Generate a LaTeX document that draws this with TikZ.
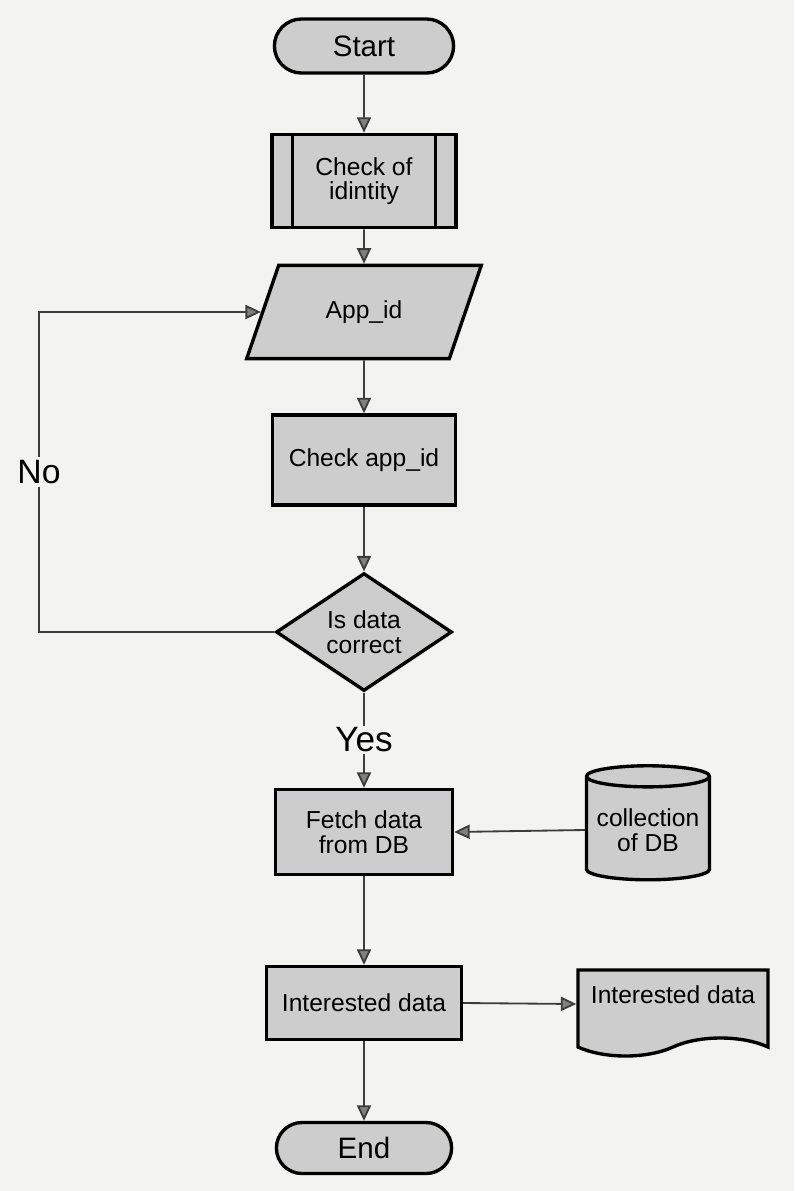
\documentclass[tikz,border=0pt]{standalone}
\usepackage{fontspec}
\setmainfont{Liberation Sans}
\usepackage{tikz}
\usetikzlibrary{arrows.meta,shapes.geometric,shapes.misc,shapes.symbols}
\usepackage{xcolor}
\definecolor{boxgray}{RGB}{205,205,205}
\definecolor{linegray}{RGB}{60,60,60}
\definecolor{paper}{RGB}{243,243,241}
\newcommand{\boxfont}{\fontsize{17.5}{17.5}\selectfont}
\tikzstyle{flowbox} = [draw, line width=2.4pt, fill=boxgray, align=center, inner sep=1pt, font=\boxfont]
\tikzstyle{terminal} = [flowbox, rounded rectangle, minimum height=1.35cm, font=\fontsize{21}{23}\selectfont]
\tikzstyle{process} = [flowbox, rectangle]
\tikzstyle{inout} = [flowbox, trapezium, trapezium left angle=60, trapezium right angle=120, trapezium stretches=true]
\tikzstyle{decision} = [flowbox, diamond, inner sep=0pt]
\tikzstyle{database} = [flowbox, cylinder, shape border rotate=90, aspect=0.2]
\tikzstyle{document} = [flowbox, tape, tape bend top=none, tape bend bottom=in and out, tape bend height=0.45cm]
\tikzstyle{arrow} = [line width=1.3pt, color=linegray, -{Triangle[length=11pt,width=10pt,fill=gray]}]

\begin{document}
\begin{tikzpicture}
\fill[paper] (0,0) rectangle (19.85,-29.775);
\useasboundingbox (0,0) rectangle (19.85,-29.775);

% Main column
\node[terminal, minimum width=4.55cm] (start) at (9.1,-1.15) {Start};
\node[process, minimum width=4.6cm, minimum height=2.33cm] (idn) at (9.1,-4.525) {Check of\\idintity};
\draw[line width=2.4pt] ([xshift=0.55cm]idn.north west) -- ([xshift=0.55cm]idn.south west);
\draw[line width=2.4pt] ([xshift=-0.55cm]idn.north east) -- ([xshift=-0.55cm]idn.south east);
\node[inout, minimum width=5.9cm, minimum height=2.33cm] (app) at (9.1,-7.8) {App\_id};
\node[process, minimum width=4.575cm, minimum height=2.25cm] (chk) at (9.1,-11.5) {Check app\_id};
\node[decision, minimum width=4.4cm, minimum height=2.675cm] (dec) at (9.1,-15.8) {Is data\\correct};
\node[font=\fontsize{25}{27}\selectfont, inner sep=1pt] (yes) at (9.1,-18.5) {Yes};
\node[process, minimum width=4.425cm, minimum height=2.125cm] (fetch) at (9.1,-20.8) {Fetch data\\from DB};
\node[process, minimum width=4.875cm, minimum height=1.825cm] (intr) at (9.1,-25.075) {Interested data};
\node[terminal, minimum width=4.45cm, minimum height=1.275cm] (stop) at (9.1,-28.7) {End};

% Side shapes
\node[database, minimum width=3.075cm, minimum height=2.85cm] (db) at (16.2,-20.75) {collection\\of DB};
\node[document, minimum width=4.75cm, minimum height=2.15cm, text depth=0.45cm] (intdoc) at (16.825,-25.1) {Interested data};
\coordinate (noL) at (0.975,-15.8);

% Connectors
\draw[arrow] (start) -- (idn);
\draw[arrow] (idn) -- (app);
\draw[arrow] (app) -- (chk);
\draw[arrow] (chk) -- (dec);
\draw[line width=1.3pt, linegray] (dec.south) -- (yes.north);
\draw[arrow] (yes) -- (fetch);
\draw[arrow] (fetch) -- (intr);
\draw[arrow] (intr) -- (stop);
\draw[arrow] (db.west) -- (fetch.east);
\draw[arrow] (intr.east) -- (intdoc.west);
\draw[arrow] (dec.west) -- (noL) |- node[pos=0.25, fill=paper, text=black, font=\fontsize{24}{26}\selectfont, inner sep=2pt] {No} (app.west);
\end{tikzpicture}
\end{document}
